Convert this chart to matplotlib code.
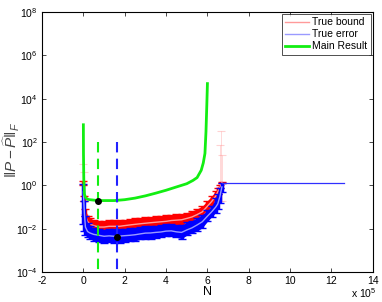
import numpy as np
import matplotlib
matplotlib.use("Agg")
import matplotlib.pyplot as plt
from matplotlib.lines import Line2D
from matplotlib.ticker import FixedLocator, FuncFormatter, NullLocator

plt.rcParams['font.family'] = ['Liberation Sans', 'DejaVu Sans']
plt.rcParams['mathtext.fontset'] = 'custom'
plt.rcParams['mathtext.rm'] = 'Liberation Sans'
plt.rcParams['mathtext.it'] = 'Liberation Sans:italic'
plt.rcParams['mathtext.default'] = 'regular'

# ---- data (N in units of 1e5) ----
N_band = [0.0, 0.05, 0.1, 0.2, 0.3, 0.5, 0.75, 1.0, 1.25, 1.5, 1.75, 2.0, 2.25, 2.5,
          2.75, 3.0, 3.25, 3.5, 3.75, 4.0, 4.25, 4.5, 4.75, 5.0, 5.25, 5.5, 5.75,
          6.0, 6.2, 6.4, 6.5, 6.6, 6.7]
bound_hi = [1.6, 0.32, 0.079, 0.040, 0.032, 0.025, 0.022, 0.022, 0.025, 0.025, 0.025,
            0.026, 0.028, 0.030, 0.032, 0.034, 0.035, 0.038, 0.040, 0.042, 0.045,
            0.048, 0.050, 0.056, 0.066, 0.083, 0.11, 0.20, 0.32, 0.56, 0.79, 1.1, 1.4]
bound_mid = [1.0, 0.2, 0.04, 0.022, 0.017, 0.014, 0.012, 0.012, 0.013, 0.013, 0.013,
             0.014, 0.015, 0.016, 0.017, 0.018, 0.019, 0.020, 0.021, 0.022, 0.024,
             0.025, 0.026, 0.030, 0.035, 0.045, 0.060, 0.11, 0.18, 0.32, 0.50, 0.80, 1.35]
err_hi = [1.2, 0.2, 0.040, 0.018, 0.014, 0.011, 0.010, 0.0089, 0.0095, 0.0095, 0.0095,
          0.010, 0.011, 0.011, 0.012, 0.013, 0.013, 0.014, 0.015, 0.016, 0.016,
          0.015, 0.015, 0.020, 0.024, 0.032, 0.045, 0.071, 0.11, 0.25, 0.40, 0.79, 1.35]
err_mid = [0.5, 0.05, 0.012, 0.0075, 0.0065, 0.0055, 0.005, 0.0045, 0.0047, 0.0045,
           0.0046, 0.0048, 0.005, 0.0053, 0.0058, 0.0063, 0.0064, 0.0068, 0.0071,
           0.0078, 0.008, 0.0072, 0.0068, 0.0088, 0.011, 0.015, 0.021, 0.038, 0.06,
           0.10, 0.14, 0.30, 0.85]
err_lo = [0.016, 0.0079, 0.005, 0.004, 0.0035, 0.0028, 0.0025, 0.0023, 0.0024, 0.0022,
          0.0023, 0.0025, 0.0026, 0.0028, 0.0032, 0.0035, 0.0035, 0.0038, 0.004,
          0.0045, 0.0045, 0.004, 0.0035, 0.005, 0.0063, 0.0079, 0.011, 0.022, 0.035,
          0.056, 0.079, 0.16, 0.5]

# faint spikes of the bound error bars at the ends
spike_N = [0.0, 0.03, 6.62, 6.68, 6.72]
spike_mid = [1.0, 0.3, 1.2, 1.4, 1.4]
spike_hi = [10.0, 4.0, 70.0, 340.0, 25.0]
spike_lo = [0.2, 0.05, 0.2, 0.5, 0.2]

# flat tail of the true error
N_tail = [6.7, 12.6]
err_tail = [1.35, 1.35]

# main result curve
N_main = [0.0, 0.005, 0.02, 0.05, 0.1, 0.2, 0.3, 0.5, 0.7, 1.0, 1.5, 2.0, 2.5, 3.0,
          3.5, 4.0, 4.5, 5.0, 5.3, 5.5, 5.7, 5.8, 5.88, 5.93, 5.97, 6.0]
main_val = [630.0, 30.0, 2.0, 0.40, 0.28, 0.23, 0.22, 0.21, 0.20, 0.20, 0.20, 0.22,
            0.26, 0.33, 0.44, 0.60, 0.85, 1.2, 1.7, 2.3, 5.0, 11.0, 30.0, 300.0,
            5000.0, 50000.0]

# markers and dashed guides
opt_main_N, opt_main_val = 0.7, 0.20
opt_err_N, opt_err_val = 1.65, 0.0042
guide_top, guide_bot = 100.0, 1e-4

legend_labels = ['True bound', 'True error', 'Main Result']

scale = 1e5
green = '#12ee12'
red_line = '#ff9a9a'
blue_line = '#9a9aff'

fig = plt.figure(figsize=(3.82, 3.02), dpi=100)
ax = fig.add_axes([0.11, 0.099, 0.866, 0.861])

Nb = np.array(N_band) * scale
bh, bm = np.array(bound_hi), np.array(bound_mid)
eh, em, el = np.array(err_hi), np.array(err_mid), np.array(err_lo)

# True bound
ax.fill_between(Nb, err_hi, bound_hi, color='#ff0000', lw=0, zorder=2)
ax.errorbar(Nb, bm, yerr=[np.clip(bm - eh, 0, None), np.clip(bh - bm, 0, None)], fmt='-',
            color=red_line, ecolor='#ff0000', elinewidth=2.5, capsize=3, capthick=1,
            lw=1, zorder=2)
sN = np.array(spike_N) * scale
sm = np.array(spike_mid)
ax.errorbar(sN, sm, yerr=[sm - np.array(spike_lo), np.array(spike_hi) - sm], fmt='none',
            ecolor='#ff8080', elinewidth=0.6, capsize=3, capthick=0.8, alpha=0.35, zorder=1)

# True error
ax.fill_between(Nb, err_lo, err_hi, color='#0000ff', lw=0, zorder=3)
ax.errorbar(Nb, em, yerr=[np.clip(em - el, 0, None), np.clip(eh - em, 0, None)], fmt='-',
            color=blue_line, ecolor='#0000ff', elinewidth=2.5, capsize=3, capthick=1,
            lw=1, zorder=3)
ax.plot(np.array(N_tail) * scale, err_tail, color='#3030ff', lw=0.9, zorder=3)

# Main result
ax.plot(np.array(N_main) * scale, main_val, color=green, lw=2, zorder=4)

# guides
ax.plot([opt_main_N * scale] * 2, [guide_top, guide_bot], ls='--', dashes=(5, 3),
        color=green, lw=1.5, zorder=5)
ax.plot([opt_err_N * scale] * 2, [guide_top, guide_bot], ls='--', dashes=(5, 3),
        color='#2222ff', lw=1.5, zorder=5)
ax.plot([opt_main_N * scale], [opt_main_val], 'o', color='k', ms=4, zorder=6)
ax.plot([opt_err_N * scale], [opt_err_val], 'o', color='k', ms=4, zorder=6)

ax.set_yscale('log')
ax.set_xlim(-2 * scale, 14 * scale)
ax.set_ylim(1e-4, 1e8)

xt = [-2, 0, 2, 4, 6, 8, 10, 12, 14]
ax.xaxis.set_major_locator(FixedLocator([v * scale for v in xt]))
ax.xaxis.set_major_formatter(FuncFormatter(lambda v, p: '%d' % round(v / scale)))
yt = [1e-4, 1e-2, 1e0, 1e2, 1e4, 1e6, 1e8]
ax.yaxis.set_major_locator(FixedLocator(yt))
ax.yaxis.set_minor_locator(NullLocator())
ax.yaxis.set_major_formatter(FuncFormatter(lambda v, p: r'$10^{%d}$' % round(np.log10(v))))
ax.tick_params(which='both', direction='in', top=True, right=True, length=3,
               width=0.5, labelsize=7.5, pad=3)
for s in ax.spines.values():
    s.set_linewidth(0.8)

ax.set_xlabel('N', fontsize=9, labelpad=0)
fig.text(0.03, 0.505, r'$\Vert \mathit{P}-\widehat{\mathit{P}}\Vert_\mathit{F}$', rotation=90,
         ha='center', va='center', fontsize=11, color='#444444')
fig.text(0.985, 0.008, r'x 10$^5$', ha='right', va='bottom', fontsize=7.5)

handles = [Line2D([], [], color=red_line, lw=1),
           Line2D([], [], color=blue_line, lw=1),
           Line2D([], [], color=green, lw=2)]
leg = ax.legend(handles, legend_labels, loc='upper right', fontsize=7.5, frameon=True,
                fancybox=False, edgecolor='k', borderpad=0.3, labelspacing=0.2,
                handlelength=2.3, handletextpad=0.3, borderaxespad=0.2)
leg.get_frame().set_linewidth(0.6)

fig.savefig('out.png', dpi=100)
